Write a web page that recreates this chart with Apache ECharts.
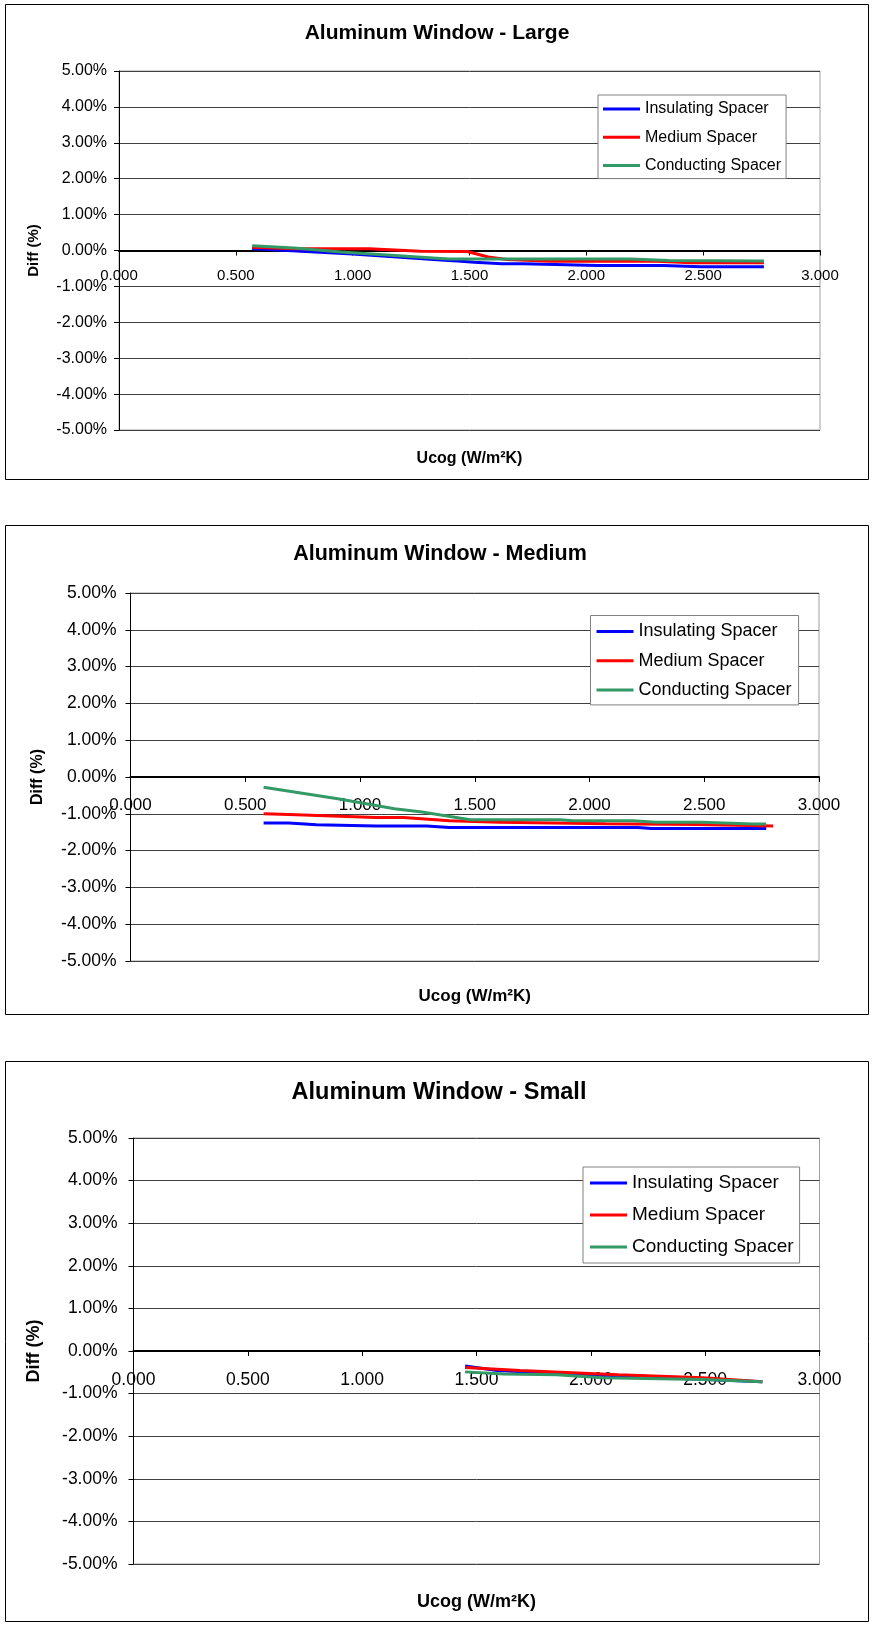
<!DOCTYPE html>
<html>
<head>
<meta charset="utf-8">
<script src="https://cdn.jsdelivr.net/npm/echarts@6/dist/echarts.min.js"></script>
<style>
html,body{margin:0;padding:0;background:#fff;}
#c{width:874px;height:1627px;}
</style>
</head>
<body>
<div id="c"></div>
<script>
// ---------- data ----------
const chartTitles = ['Aluminum Window - Large', 'Aluminum Window - Medium', 'Aluminum Window - Small'];
const seriesNames = ['Insulating Spacer', 'Medium Spacer', 'Conducting Spacer'];
const seriesColors = ['#0000FF', '#FF0000', '#339966'];
const xTickValues = [0, 0.5, 1, 1.5, 2, 2.5, 3];
const yTickValues = [-5, -4, -3, -2, -1, 0, 1, 2, 3, 4, 5];
const xAxisTitle = 'Ucog (W/m²K)';
const yAxisTitle = 'Diff (%)';

// [Ucog, Diff %]
const largeInsulating = [[0.57,0.05],[0.72,0.00],[1.00,-0.10],[1.41,-0.28],[1.45,-0.29],[1.52,-0.33],[1.64,-0.37],[1.73,-0.37],[2.05,-0.42],[2.33,-0.42],[2.49,-0.45],[2.76,-0.45]];
const largeMedium = [[0.57,0.09],[0.75,0.05],[1.07,0.05],[1.29,-0.02],[1.49,-0.03],[1.58,-0.18],[1.66,-0.25],[1.85,-0.30],[2.30,-0.30],[2.45,-0.34],[2.76,-0.34]];
const largeConducting = [[0.57,0.13],[0.75,0.07],[0.95,-0.04],[1.41,-0.24],[1.64,-0.24],[2.19,-0.24],[2.35,-0.28],[2.76,-0.29]];

const mediumInsulating = [[0.58,-1.25],[0.69,-1.25],[0.81,-1.30],[1.07,-1.33],[1.29,-1.33],[1.39,-1.37],[2.21,-1.37],[2.27,-1.40],[2.77,-1.40]];
const mediumMedium = [[0.58,-1.00],[0.69,-1.02],[1.07,-1.10],[1.19,-1.10],[1.39,-1.19],[1.61,-1.23],[2.07,-1.27],[2.47,-1.29],[2.80,-1.33]];
const mediumConducting = [[0.58,-0.28],[0.91,-0.60],[1.15,-0.86],[1.27,-0.95],[1.48,-1.16],[1.87,-1.16],[1.93,-1.19],[2.19,-1.19],[2.29,-1.23],[2.49,-1.23],[2.71,-1.28],[2.77,-1.28]];

const smallInsulating = [[1.45,-0.35],[1.59,-0.46],[1.75,-0.50],[2.12,-0.58],[2.75,-0.72]];
const smallMedium = [[1.45,-0.39],[1.69,-0.46],[2.12,-0.56],[2.49,-0.63],[2.75,-0.72]];
const smallConducting = [[1.45,-0.49],[1.62,-0.54],[1.85,-0.56],[2.05,-0.63],[2.49,-0.67],[2.75,-0.72]];

const chartSeries = [
  [largeInsulating, largeMedium, largeConducting],
  [mediumInsulating, mediumMedium, mediumConducting],
  [smallInsulating, smallMedium, smallConducting]
];

// ---------- layout ----------
const FONT = "'Liberation Sans', Arial, sans-serif";
const layouts = [
  { border:[5.5,4.5,863,475], grid:{left:119, top:71, width:701, height:359},
    titleTop:22.5, titleSize:21, titleLeft:437,
    legend:{left:598, top:95, size:16, gap:12.3, pad:[6,5,5,5]},
    yLabelSize:16, xLabelSize:15, yMargin:12, xMargin:17.5,
    yNameSize:15, yNameGap:77.5, xNameSize:16, xNameGap:200 },
  { border:[5.5,525.5,863,489], grid:{left:130.5, top:593, width:688.5, height:368},
    titleTop:543, titleSize:21.5, titleLeft:440,
    legend:{left:590.5, top:615.5, size:18, gap:11.2, pad:[7,7,6,6]},
    yLabelSize:17.5, xLabelSize:17, yMargin:14, xMargin:19.5,
    yNameSize:16, yNameGap:84.5, xNameSize:17, xNameGap:211 },
  { border:[5.5,1061.5,863,560], grid:{left:133.5, top:1138, width:686, height:426},
    titleTop:1081, titleSize:23.5, titleLeft:439,
    legend:{left:583, top:1167, size:19, gap:13, pad:[6.5,6,6.5,7]},
    yLabelSize:17.5, xLabelSize:17.5, yMargin:16, xMargin:20.5,
    yNameSize:18, yNameGap:90.5, xNameSize:18, xNameGap:242 }
];

const yMin = yTickValues[0], yMax = yTickValues[yTickValues.length - 1];

const option = {
  animation: false,
  backgroundColor: '#fff',
  title: [], legend: [], grid: [], xAxis: [], yAxis: [], series: [], graphic: []
};

layouts.forEach((L, i) => {
  // x axis sits on the 0 % line: shift it up from the grid bottom
  const zeroOffset = -L.grid.height * (0 - yMin) / (yMax - yMin);
  option.graphic.push({
    type: 'rect', silent: true, z: 0,
    shape: {x: L.border[0], y: L.border[1], width: L.border[2], height: L.border[3]},
    style: {fill: null, stroke: '#000', lineWidth: 1}
  });
  option.title.push({
    text: chartTitles[i], left: L.titleLeft, top: L.titleTop, padding: 0, textAlign: 'center',
    textStyle: {fontFamily: FONT, fontWeight: 'bold', fontSize: L.titleSize, color: '#000'}
  });
  option.legend.push({
    orient: 'vertical', left: L.legend.left, top: L.legend.top,
    padding: L.legend.pad, itemGap: L.legend.gap,
    itemWidth: 37, itemHeight: 3, icon: 'rect', selectedMode: false,
    backgroundColor: '#fff', borderColor: '#808080', borderWidth: 1, z: 10,
    textStyle: {fontFamily: FONT, fontSize: L.legend.size, color: '#000'},
    data: seriesNames.map((n, k) => ({name: n, itemStyle: {color: seriesColors[k]}}))
  });
  option.grid.push(Object.assign({show: true, borderColor: '#a0a0a0', borderWidth: 1, backgroundColor: '#fff',
    containLabel: false, outerBoundsMode: 'none'}, L.grid));
  option.xAxis.push({
    type: 'value', gridIndex: i, position: 'bottom', offset: zeroOffset,
    min: xTickValues[0], max: xTickValues[xTickValues.length - 1], interval: xTickValues[1] - xTickValues[0],
    axisLine: {show: true, onZero: false, lineStyle: {color: '#000', width: 2}},
    axisTick: {show: true, length: 5, lineStyle: {color: '#000', width: 1}},
    axisLabel: {show: true, formatter: v => v.toFixed(3), fontFamily: FONT, fontSize: L.xLabelSize, color: '#000',
      margin: L.xMargin, showMinLabel: true, showMaxLabel: true, hideOverlap: false},
    splitLine: {show: false},
    name: xAxisTitle, nameLocation: 'middle', nameGap: L.xNameGap,
    nameTextStyle: {fontFamily: FONT, fontWeight: 'bold', fontSize: L.xNameSize, color: '#000'}
  });
  option.yAxis.push({
    type: 'value', gridIndex: i,
    min: yMin, max: yMax, interval: yTickValues[1] - yTickValues[0],
    axisLine: {show: true, onZero: false, lineStyle: {color: '#000', width: 1}},
    axisTick: {show: true, length: 5, lineStyle: {color: '#000', width: 1}},
    axisLabel: {show: true, formatter: v => v.toFixed(2) + '%', fontFamily: FONT, fontSize: L.yLabelSize, color: '#000',
      margin: L.yMargin, showMinLabel: true, showMaxLabel: true, hideOverlap: false},
    splitLine: {show: true, lineStyle: {color: '#404040', width: 1}},
    name: yAxisTitle, nameLocation: 'middle', nameGap: L.yNameGap,
    nameTextStyle: {fontFamily: FONT, fontWeight: 'bold', fontSize: L.yNameSize, color: '#000'}
  });
  chartSeries[i].forEach((data, k) => {
    option.series.push({
      type: 'line', name: seriesNames[k], xAxisIndex: i, yAxisIndex: i,
      data: data, showSymbol: false, symbol: 'none', smooth: false,
      lineStyle: {color: seriesColors[k], width: 3},
      itemStyle: {color: seriesColors[k]}, z: 3 + k
    });
  });
});

const chart = echarts.init(document.getElementById('c'), null, {renderer: 'canvas'});
chart.setOption(option);
</script>
</body>
</html>
